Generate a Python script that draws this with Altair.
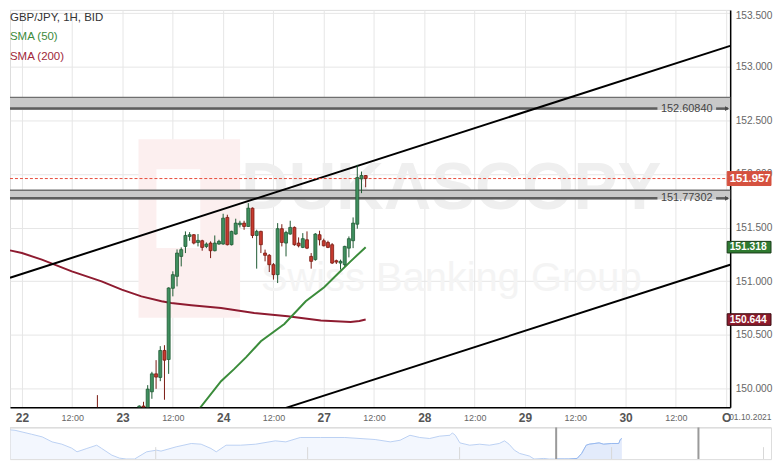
import altair as alt
import pandas as pd

# ---------------- data ----------------
candle_hour = [18, 28, 29, 30, 31, 32, 33, 34, 35, 36, 37, 38, 39, 40, 41, 42, 43, 44, 45, 46, 47,
               48, 49, 50, 51, 52, 53, 54, 55, 56, 57, 58, 59, 60, 61, 62, 63, 64, 65, 66, 67, 68,
               69, 70, 71, 72, 73, 74, 75, 76, 77, 78, 79, 80, 81, 82]
candle_open = [149.76, 149.79, 149.838, 149.80, 149.971, 150.138, 150.105, 150.356, 150.272, 150.935,
               151.046, 151.232, 151.325, 151.418, 151.434, 151.362, 151.378, 151.325, 151.356, 151.285,
               151.347, 151.347, 151.595, 151.341, 151.440, 151.527, 151.542, 151.511, 151.681, 151.427,
               151.465, 151.263, 151.242, 151.155, 151.062, 151.490, 151.356, 151.440, 151.502, 151.356,
               151.316, 151.387, 151.232, 151.202, 151.434, 151.378, 151.362, 151.341, 151.192, 151.170,
               151.155, 151.309, 151.378, 151.532, 151.954, 151.985]
candle_high = [149.94, 149.845, 149.878, 150.033, 150.157, 150.266, 150.396, 150.405, 150.944, 151.093,
               151.297, 151.316, 151.465, 151.458, 151.440, 151.440, 151.387, 151.362, 151.372, 151.427,
               151.387, 151.629, 151.620, 151.471, 151.583, 151.564, 151.564, 151.728, 151.688, 151.480,
               151.471, 151.295, 151.254, 151.170, 151.542, 151.532, 151.471, 151.564, 151.511, 151.409,
               151.449, 151.465, 151.263, 151.449, 151.471, 151.397, 151.378, 151.356, 151.202, 151.202,
               151.331, 151.418, 151.595, 152.085, 152.022, 151.990]
candle_low = [149.62, 149.75, 149.76, 149.78, 149.906, 149.999, 150.070, 149.897, 150.138, 150.860,
              150.953, 151.139, 151.263, 151.378, 151.344, 151.325, 151.285, 151.309, 151.216, 151.279,
              151.341, 151.341, 151.334, 151.334, 151.434, 151.502, 151.480, 151.508, 151.402, 151.118,
              151.263, 151.186, 151.086, 151.016, 150.984, 151.325, 151.232, 151.434, 151.331, 151.316,
              151.309, 151.300, 151.118, 151.192, 151.334, 151.325, 151.309, 151.161, 151.161, 151.109,
              151.139, 151.223, 151.309, 151.490, 151.821, 151.876]
candle_close = [149.70, 149.838, 149.80, 149.996, 150.138, 150.108, 150.356, 150.266, 150.938, 151.062,
                151.263, 151.295, 151.427, 151.434, 151.356, 151.381, 151.316, 151.347, 151.285, 151.356,
                151.372, 151.588, 151.341, 151.465, 151.542, 151.542, 151.511, 151.681, 151.427, 151.465,
                151.341, 151.242, 151.155, 151.062, 151.490, 151.362, 151.455, 151.502, 151.341, 151.331,
                151.397, 151.309, 151.186, 151.440, 151.387, 151.331, 151.316, 151.170, 151.179, 151.186,
                151.325, 151.397, 151.542, 151.966, 151.985, 151.957]

sma50_hour = [40, 42.5, 47.5, 50.6, 53.5, 57, 62.6, 67.7, 72.1, 75.3, 78.4, 82]
sma50_value = [149.73, 149.822, 150.07, 150.182, 150.294, 150.442, 150.603, 150.814, 150.944,
               151.068, 151.186, 151.318]
sma200_hour = [-2.85, 0, 4.75, 11.9, 19.0, 23.8, 28.5, 33.3, 35.6, 40.4, 47.5, 55.4, 63.4, 71.3,
               78.4, 80.5, 82]
sma200_value = [151.288, 151.263, 151.202, 151.093, 151.0, 150.923, 150.86, 150.814, 150.798,
                150.777, 150.752, 150.705, 150.675, 150.635, 150.622, 150.630, 150.644]

channel_upper_hour = [-2.85, 168.95]
channel_upper_value = [151.033, 153.193]
channel_lower_hour = [62.6, 168.95]
channel_lower_value = [149.817, 151.154]

zone_top = [152.713, 151.849]
zone_level = [152.6084, 151.77302]
zone_label = ["152.60840", "151.77302"]

last_price = [151.957]
sma50_last = [151.318]
sma200_last = [150.644]

x_tick_hour = [0, 12, 24, 36, 48, 60, 72, 84, 96, 108, 120, 132, 144, 156, 168]
x_tick_text = ["22", "12:00", "23", "12:00", "24", "12:00", "27", "12:00", "28", "12:00",
               "29", "12:00", "30", "12:00", "O"]
y_tick_values = [150.0, 150.5, 151.0, 151.5, 152.0, 152.5, 153.0, 153.5]

legend_lines = ["GBP/JPY, 1H, BID", "SMA (50)", "SMA (200)"]
watermark_text = ["DUKASCOPY", "Swiss Banking Group"]
date_box_text = ["01.10.2021"]

nav_hour = [-726, -720, -698, -684, -671, -658, -645, -638, -625, -612, -606, -592, -582, -573,
            -562, -546, -533, -527, -507, -487, -474, -461, -454, -441, -422, -402, -376, -362,
            -343, -316, -284, -264, -244, -224, -211, -198, -185, -172, -159, -145, -142, -138,
            -132, -119, -106, -93, -80, -73, -67, -60, -53, -40, -34, -21, -14, -7, -5, 6, 12,
            23, 29, 35, 39, 52, 58, 68, 78, 80, 82]
nav_value = [152.82, 152.78, 152.39, 152.13, 151.64, 151.41, 151.02, 150.66, 150.99, 151.31,
             151.02, 150.33, 150.04, 149.68, 149.84, 150.66, 150.82, 150.73, 151.15, 151.48,
             151.41, 150.99, 150.66, 151.31, 151.31, 151.41, 151.74, 151.64, 152.07, 152.07,
             152.07, 151.97, 151.87, 151.64, 151.80, 152.29, 152.07, 151.97, 152.20, 152.29,
             152.52, 152.29, 151.54, 151.31, 151.41, 151.31, 151.48, 151.74, 151.41, 150.82,
             150.50, 150.24, 149.84, 150.01, 149.78, 149.58, 149.84, 149.84, 149.91, 150.01,
             150.50, 151.31, 151.41, 151.54, 151.41, 151.48, 151.48, 151.87, 151.97]
nav_tick_major = [-534.0, -333.2, -132.4, 68.5, 269.3]
nav_window = [-4.75, 183.3]

# ---------------- styling / scales ----------------
W, H = 723, 399
FONT = "Liberation Sans"
GREEN_FILL, GREEN_LINE = "#3f8f5f", "#1f5a33"
RED_FILL, RED_LINE = "#c63a2f", "#7a1a12"

xs = alt.Scale(domain=[-2.851, 168.955], nice=False, zero=False, padding=0)
ys = alt.Scale(domain=[149.8265, 153.5278], nice=False, zero=False, padding=0)

is_day = "datum.value % 24 == 0"
label_expr = "[" + ",".join("'%s'" % t for t in x_tick_text) + "][round(datum.value/12)]"

x_axis = alt.Axis(values=x_tick_hour, labelExpr=label_expr, grid=True, gridColor="#e6e6e6",
                  gridWidth=1, domainColor="#000000", domainWidth=1.5, ticks=False,
                  labelPadding=10, labelBaseline="middle", labelFlush=False, labelOverlap=False,
                  labelFont=FONT,
                  labelFontSize={"condition": {"test": is_day, "value": 12}, "value": 9},
                  labelFontWeight={"condition": {"test": is_day, "value": "bold"}, "value": "normal"},
                  labelColor={"condition": {"test": is_day, "value": "#555555"}, "value": "#666666"},
                  title=None)
y_axis = alt.Axis(orient="right", values=y_tick_values, format=".3f", grid=True,
                  gridColor="#e6e6e6", gridWidth=1, domainColor="#000000", domainWidth=1.5,
                  ticks=False, labelPadding=5, labelFont=FONT, labelFontSize=10.2,
                  labelOffset={"condition": {"test": "datum.value > 153.4", "value": 2.4},
                               "value": 0},
                  labelColor="#666666", labelFlush=False, labelOverlap=False, title=None)


def X(f):
    return alt.X(f, type="quantitative", scale=xs, axis=x_axis)


def Y(f):
    return alt.Y(f, type="quantitative", scale=ys, axis=y_axis)


candles = pd.DataFrame({"h": candle_hour, "open": candle_open, "high": candle_high,
                        "low": candle_low, "close": candle_close})
up = "datum.close >= datum.open"

one = pd.DataFrame({"k": [0]})

# watermark (decorative)
logo_outer = alt.Chart(one).mark_rect(color="#fcefef").encode(
    x=alt.value(129), x2=alt.value(231), y=alt.value(130), y2=alt.value(309))
logo_inner = alt.Chart(one).mark_rect(color="#ffffff").encode(
    x=alt.value(147), x2=alt.value(191), y=alt.value(160), y2=alt.value(239))
wm1 = alt.Chart(pd.DataFrame({"t": [watermark_text[0]]})).mark_text(
    font=FONT, fontWeight="bold", fontSize=66, color="#efefef",
    align="center", baseline="middle").encode(text="t:N", x=alt.value(443), y=alt.value(180))
wm2 = alt.Chart(pd.DataFrame({"t": [watermark_text[1]]})).mark_text(
    font=FONT, fontSize=40, color="#f4f4f4",
    align="center", baseline="middle").encode(text="t:N", x=alt.value(443), y=alt.value(270))

# base layer carrying both axes
base = alt.Chart(candles).mark_point(opacity=0).encode(x=X("h"), y=Y("high"))

zones = pd.DataFrame({"top": zone_top, "level": zone_level, "label": zone_label})
zone_rect = alt.Chart(zones).transform_calculate(bot="datum.level - 0.012").mark_rect(
    color="#c9c9c9").encode(y=Y("top"), y2=alt.Y2("bot"))
zone_top_line = alt.Chart(zones).mark_rule(color="#6f6f6f", strokeWidth=1.5).encode(y=Y("top"))
zone_seg1 = alt.Chart(zones).transform_calculate(a="-2.85", b="151.6").mark_rule(
    color="#5e5e5e", strokeWidth=2.5).encode(x=X("a:Q"), x2=alt.X2("b:Q"), y=Y("level"))
zone_seg2 = alt.Chart(zones).transform_calculate(a="165.6", b="168.4").mark_rule(
    color="#5e5e5e", strokeWidth=2.5).encode(x=X("a:Q"), x2=alt.X2("b:Q"), y=Y("level"))
zone_arrow = alt.Chart(zones).transform_calculate(a="168.2").mark_point(
    shape="triangle-right", filled=True, size=22, color="#4a4a4a", opacity=1).encode(
    x=X("a:Q"), y=Y("level"))
zone_text = alt.Chart(zones).transform_calculate(a="158.6").mark_text(
    font=FONT, fontSize=11, color="#444444", align="center", baseline="middle").encode(
    x=X("a:Q"), y=Y("level"), text="label:N")

sma200 = alt.Chart(pd.DataFrame({"h": sma200_hour, "v": sma200_value})).mark_line(
    color="#8e1b30", strokeWidth=2, clip=True).encode(x=X("h"), y=Y("v"))
sma50 = alt.Chart(pd.DataFrame({"h": sma50_hour, "v": sma50_value})).mark_line(
    color="#3b8c3b", strokeWidth=2, clip=True).encode(x=X("h"), y=Y("v"))

ch_up = alt.Chart(pd.DataFrame({"h": channel_upper_hour, "v": channel_upper_value})).mark_line(
    color="#000000", strokeWidth=2, clip=True).encode(x=X("h"), y=Y("v"))
ch_lo = alt.Chart(pd.DataFrame({"h": channel_lower_hour, "v": channel_lower_value})).mark_line(
    color="#000000", strokeWidth=2, clip=True).encode(x=X("h"), y=Y("v"))

price_line = alt.Chart(pd.DataFrame({"v": last_price})).mark_rule(
    color="#e74c3c", strokeDash=[3, 2], strokeWidth=1).encode(y=Y("v"))

wicks = alt.Chart(candles).mark_rule(strokeWidth=1, clip=True).encode(
    x=X("h"), y=Y("low"), y2=alt.Y2("high"),
    color=alt.condition(up, alt.value(GREEN_LINE), alt.value(RED_LINE)))
bodies = alt.Chart(candles).mark_bar(size=3, strokeWidth=0.8, clip=True).encode(
    x=X("h"), y=Y("open"), y2=alt.Y2("close"),
    color=alt.condition(up, alt.value(GREEN_FILL), alt.value(RED_FILL)),
    stroke=alt.condition(up, alt.value(GREEN_LINE), alt.value(RED_LINE)))

legend_colors = ["#333333", "#3c8a3c", "#a0283a"]
legend_layers = []
for i, (txt, col) in enumerate(zip(legend_lines, legend_colors)):
    legend_layers.append(alt.Chart(pd.DataFrame({"t": [txt]})).mark_text(
        font=FONT, fontSize=11.5, color=col, align="left", baseline="middle").encode(
        text="t:N", x=alt.value(0), y=alt.value(8 + 19.5 * i)))


def tag(vals, half, fill, stroke, fsize):
    df = pd.DataFrame({"v": vals})
    r = alt.Chart(df).transform_calculate(
        top="datum.v + %f" % half, bot="datum.v - %f" % half).mark_rect(
        color=fill, stroke=stroke, strokeWidth=1).encode(
        x=alt.value(720), x2=alt.value(764), y=Y("top"), y2=alt.Y2("bot"))
    t = alt.Chart(df).mark_text(font=FONT, fontSize=fsize, fontWeight="bold", color="#ffffff",
                                align="left", baseline="middle").encode(
        x=alt.value(722.5), y=Y("v"), text=alt.Text("v:Q", format=".3f"))
    return [r, t]


tags = (tag(last_price, 0.065, "#d5513f", "#d5513f", 11.4)
        + tag(sma50_last, 0.054, "#2f7a30", "#1a3d1a", 10.3)
        + tag(sma200_last, 0.054, "#8e1b2c", "#3a0a10", 10.3))

date_box = alt.Chart(pd.DataFrame({"t": date_box_text})).mark_text(
    font=FONT, fontSize=8.5, color="#666666", align="left", baseline="middle").encode(
    text="t:N", x=alt.value(722), y=alt.value(409))

main = alt.layer(
    base, logo_outer, logo_inner, wm1, wm2,
    zone_rect, zone_top_line, zone_seg1, zone_seg2, zone_arrow, zone_text,
    sma200, sma50, ch_up, ch_lo, price_line, wicks, bodies,
    *legend_layers, *tags, date_box
).properties(width=W, height=H)

# ---------------- navigator ----------------
NAV_MIN, NAV_MAX = 149.94, 153.08
nxs = alt.Scale(domain=[-726.6, 279.2], nice=False, zero=False, padding=0)
nys = alt.Scale(domain=[NAV_MIN, NAV_MAX], nice=False, zero=False, padding=0)
nav_df = pd.DataFrame({"h": nav_hour, "v": nav_value})


def NX(f):
    return alt.X(f, type="quantitative", scale=nxs, axis=None)


def NY(f):
    return alt.Y(f, type="quantitative", scale=nys, axis=None)


nav_clamped = alt.Chart(nav_df).transform_calculate(vc="max(datum.v, %f)" % (NAV_MIN + 0.01))
nav_area = nav_clamped.mark_area(
    color="#eef4fd", line={"color": "#bcd1f3", "strokeWidth": 1}, clip=True).encode(
    x=NX("h"), y=NY("vc:Q"))
nav_sel = nav_clamped.transform_filter("datum.h >= -5").mark_area(
    color="#dbe6fa", line={"color": "#98b9ef", "strokeWidth": 1}, clip=True).encode(
    x=NX("h"), y=NY("vc:Q"))
nav_major = alt.Chart(pd.DataFrame({"h": nav_tick_major})).transform_calculate(
    a="151.12", b=str(NAV_MIN)).mark_rule(color="#d8d8d8", strokeWidth=1, clip=True).encode(
    x=NX("h"), y=NY("a:Q"), y2=alt.Y2("b:Q"))
nav_top = alt.Chart(one).mark_rule(color="#dddddd", strokeWidth=1.5).encode(y=alt.value(0.5))
nav_handles = alt.Chart(pd.DataFrame({"h": nav_window})).mark_rule(
    color="#9a9a9a", strokeWidth=2, clip=True).encode(x=NX("h"))

nav = alt.layer(nav_area, nav_sel, nav_major, nav_top, nav_handles).properties(
    width=764, height=32)

chart = alt.vconcat(main, nav, spacing=20, bounds="flush", padding=0).configure_view(
    stroke=None).configure(font=FONT, background="#ffffff")

chart.save("out.html", embed_options={"renderer": "svg", "actions": False})
